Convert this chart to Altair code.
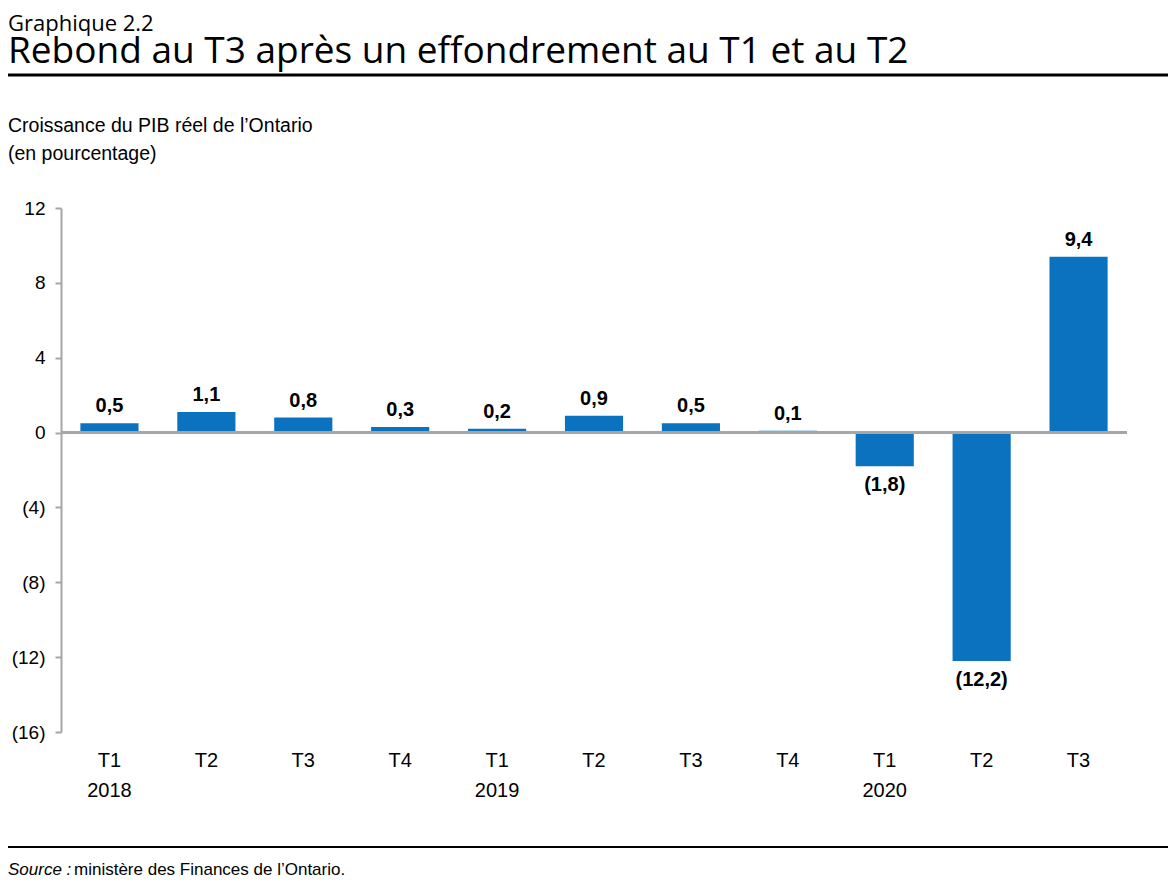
import altair as alt
import pandas as pd

# data
quarters = ["T1", "T2", "T3", "T4", "T1", "T2", "T3", "T4", "T1", "T2", "T3"]
years = ["2018", "2018", "2018", "2018", "2019", "2019", "2019", "2019", "2020", "2020", "2020"]
growth = [0.5, 1.1, 0.8, 0.3, 0.2, 0.9, 0.5, 0.1, -1.8, -12.2, 9.4]
y_ticks = [-16, -12, -8, -4, 0, 4, 8, 12]


def fr_label(v):
    s = f"{abs(v):.1f}".replace(".", ",")
    return f"({s})" if v < 0 else s


df = pd.DataFrame({
    "key": [f"{y}-{q}" for y, q in zip(years, quarters)],
    "value": growth,
})
df["label"] = df["value"].apply(fr_label)

BODY = "Liberation Sans Narrow, Arial Narrow, Liberation Sans, Arial"
HEAD = "Open Sans, Lato, sans-serif"
PAD_L = 53
W, H = 1066, 524

x_enc = alt.X(
    "key:N", sort=None, title=None,
    scale=alt.Scale(paddingInner=0.4, paddingOuter=0.2),
    axis=alt.Axis(
        domain=False, ticks=False, labelAngle=0, labelFont=BODY, labelFontSize=20,
        labelColor="black", labelPadding=28, labelLineHeight=30, labelBaseline="middle",
        labelExpr="split(datum.label,'-')[1] == 'T1' ? [split(datum.label,'-')[1], split(datum.label,'-')[0]] : split(datum.label,'-')[1]",
    ),
)
y_scale = alt.Scale(domain=[-16, 12], nice=False)

base = alt.Chart(df)

bars = base.mark_bar(color="#0B72C0").encode(
    x=x_enc,
    y=alt.Y(
        "value:Q", scale=y_scale, title=None,
        axis=alt.Axis(
            values=y_ticks, grid=False, domainColor="#A6A6A6", domainWidth=2,
            tickColor="#A6A6A6", tickWidth=2, tickSize=6, labelFont=BODY,
            labelFontSize=19, labelColor="black", labelPadding=10,
            labelExpr="datum.value < 0 ? '(' + abs(datum.value) + ')' : datum.value",
        ),
    ),
)

zero = alt.Chart(df).mark_rule(color="#A6A6A6", strokeWidth=2).encode(y=alt.datum(0))

pos_text = base.transform_filter("datum.value >= 0").mark_text(
    baseline="bottom", dy=-7, font=BODY, fontSize=20, fontWeight="bold", color="black"
).encode(x=x_enc, y=alt.Y("value:Q", scale=y_scale), text="label:N")

neg_text = base.transform_filter("datum.value < 0").mark_text(
    baseline="top", dy=9, font=BODY, fontSize=20, fontWeight="bold", color="black"
).encode(x=x_enc, y=alt.Y("value:Q", scale=y_scale), text="label:N")

# header, axis caption and footer (decoration placed in pixels)
one = pd.DataFrame({"a": [0]})


def note(text, x, y, size, font=BODY, weight="normal", style="normal"):
    return alt.Chart(one).mark_text(
        text=text, align="left", baseline="alphabetic", font=font, fontSize=size,
        fontWeight=weight, fontStyle=style, color="black",
    ).encode(x=alt.value(x), y=alt.value(y))


def hline(y, width):
    return alt.Chart(one).mark_rule(color="black", strokeWidth=width).encode(
        x=alt.value(-PAD_L), x2=alt.value(W + 41), y=alt.value(y)
    )


notes = [
    note("Graphique 2.2", -PAD_L, -177, 22, font=HEAD),
    note("Rebond au T3 après un effondrement au T1 et au T2", -PAD_L, -145, 37, font=HEAD, weight=500),
    hline(-133, 3),
    note("Croissance du PIB réel de l\u2019Ontario", -PAD_L, -76, 19.5),
    note("(en pourcentage)", -PAD_L, -48, 19.5),
    hline(639, 2),
    note("Source :", -PAD_L, 667, 17, style="italic"),
    note("ministère des Finances de l\u2019Ontario.", -PAD_L + 66, 667, 17),
]

chart = alt.layer(bars, zero, pos_text, neg_text, *notes).properties(
    width=W,
    height=H,
    autosize=alt.AutoSizeParams(type="none"),
    padding={"left": PAD_L, "top": 200, "right": 41, "bottom": 148},
).configure_view(stroke=None)

chart.save("out.html", embed_options={"renderer": "svg", "actions": False})
